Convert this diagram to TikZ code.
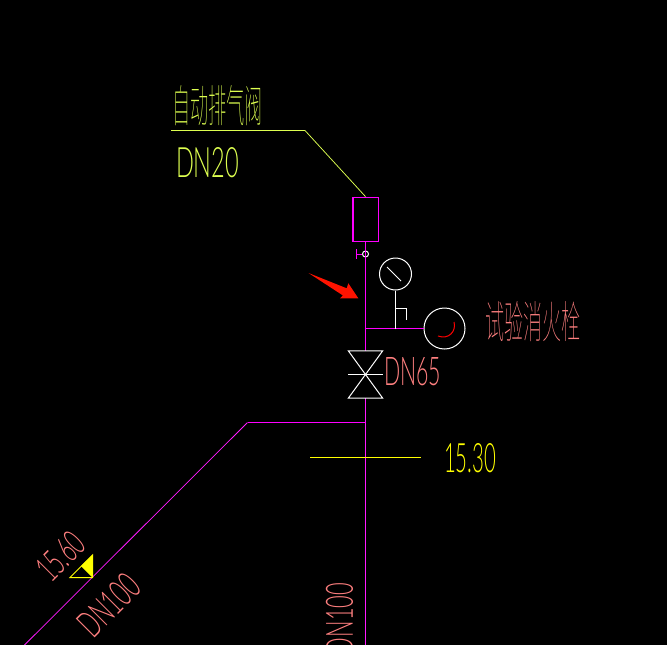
\documentclass[tikz,border=0pt]{standalone}
\usepackage{fontspec}
\usepackage{xcolor}
\IfFontExistsTF{Lato Light}{\newfontfamily\cadfont{Lato Light}}{\newfontfamily\cadfont{Lato}}
\IfFontExistsTF{Noto Sans CJK SC Thin}{\newfontfamily\cjkfont{Noto Sans CJK SC Thin}}{\newfontfamily\cjkfont{Noto Sans CJK SC}}
\definecolor{cadyellow}{RGB}{255,255,0}
\definecolor{cadlime}{RGB}{222,255,80}
\definecolor{cadpink}{RGB}{255,128,128}
\definecolor{cadpipe}{RGB}{255,0,255}
\newcommand{\cadtext}[3]{\resizebox{#1pt}{#2pt}{\cadfont #3}}
\newcommand{\cjktext}[3]{\resizebox{#1pt}{#2pt}{\cjkfont #3}}
\tikzset{
	pipeline/.style={draw=cadpipe,line width=1pt},
	thinpipe/.style={draw=cadpipe!90!white,line width=0.75pt},
	fitting/.style={draw=white,line width=1pt},
	dial/.style={circle,draw=white,line width=1pt,inner sep=0pt},
	label/.style={inner sep=0pt},
}
\begin{document}
\begin{tikzpicture}[x=1pt,y=-1pt]
\useasboundingbox (0,0) rectangle (667,645);
\fill[black] (0,0) rectangle (667,645);
\node[pipeline,line width=1.4pt,minimum width=25.4pt,minimum height=44.4pt,inner sep=0pt] (vent) at (365.5,219.5) {};
\node[circle,fitting,minimum size=6pt,inner sep=0pt] (cock) at (365.5,254) {};
\node[minimum width=34pt,minimum height=47pt,inner sep=0pt] (valve) at (365.5,374.5) {};
\node[dial,minimum size=32pt] (gauge) at (395.5,274) {};
\node[dial,minimum size=41pt] (hydrant) at (444.5,328.5) {};
\coordinate (pipeend) at (365.5,645);
\coordinate (branchtee) at (365.5,328.5);
\coordinate (stemtee) at (395.5,328.5);
\coordinate (leaderstart) at (171,130.5);
\coordinate (leaderknee) at (305,130.5);
\coordinate (maintee) at (365.5,422.5);
\coordinate (mainknee) at (247.5,422.5);
\coordinate (mainend) at (24.5,645);
\coordinate (levelleft) at (310,457.5);
\coordinate (levelright) at (421,457.5);
\draw[pipeline] (vent.south) -- (valve.north);
\draw[thinpipe] (valve.south) -- (pipeend);
\draw[pipeline] (cock.west) -- (356,254);
\draw[pipeline] (356,249) -- (356,259);
\draw[pipeline] (branchtee) -- (hydrant.west);
\draw[pipeline] (maintee) -- (mainknee);
\draw[thinpipe] (mainknee) -- (mainend);
\draw[cadlime,line width=1pt] (leaderstart) -- (leaderknee);
\draw[cadlime,line width=0.75pt] (leaderknee) -- (vent.north);
\draw[cadyellow,line width=1pt] (levelleft) -- (levelright);
\draw[fitting] (gauge.south) -- (stemtee);
\draw[fitting] (395.5,308.5) -- (406.5,308.5) -- (406.5,320);
\draw[fitting] (387,267) -- (401,281);
\draw[fitting] (valve.north west) -- (valve.north east) -- (valve.south west) -- (valve.south east) -- cycle;
\draw[fitting] (valve.west) -- (valve.east);
\draw[red,line width=1pt] (454,322) .. controls (456.5,331) and (449,340) .. (438,336);
\fill[red!85!orange] (308.5,273) -- (346.7,288.3) -- (348.3,283.3) -- (358.3,298.3) -- (340,298.3) -- (343,295.5) -- cycle;
\draw[cadyellow,line width=1pt] (70,577.5) -- (92.5,577.5) -- (92.5,555) -- cycle;
\fill[cadyellow] (92.5,555) -- (92.5,577.5) -- (81,566) -- cycle;
\node[label,text=cadlime] (ventname) at (217.5,105.5) {\cjktext{91}{37}{自动排气阀}};
\node[label,text=cadlime] (ventsize) at (207.5,163) {\cadtext{63}{30}{DN20}};
\node[label,text=cadpink] (hydrantname) at (532.5,321.5) {\cjktext{95}{37}{试验消火栓}};
\node[label,text=cadpink] (valvesize) at (412.5,372) {\cadtext{57}{28}{DN65}};
\node[label,text=cadyellow] (levelname) at (470,458.5) {\cadtext{52}{29}{15.30}};
\node[label,text=cadpink,rotate=45] (slopelevel) at (60.5,556.5) {\cadtext{52}{26}{15.60}};
\node[label,text=cadpink,rotate=45] (slopesize) at (109,605) {\cadtext{71}{27}{DN100}};
\node[label,text=cadpink,rotate=90] (risersize) at (339.5,618.5) {\cadtext{71}{27}{DN100}};
\end{tikzpicture}
\end{document}
